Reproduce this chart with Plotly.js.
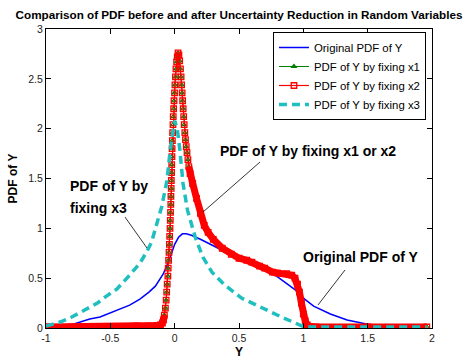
<!DOCTYPE html>
<html><head><meta charset="utf-8">
<script src="https://cdn.plot.ly/plotly-3.0.1.min.js"></script>
<style>html,body{margin:0;padding:0;background:#fff;} #chart{width:464px;height:360px;}</style>
</head><body><div id="chart"></div>
<script>
// Original PDF of Y
const origX = [-0.88, -0.79, -0.66, -0.58, -0.5, -0.425, -0.35, -0.27, -0.2, -0.15, -0.09, -0.04, 0.0, 0.03, 0.06, 0.09, 0.13, 0.2, 0.26, 0.37, 0.5, 0.63, 0.76, 0.86, 0.94, 1.01, 1.08, 1.21, 1.34, 1.49, 1.67];
const origY = [0.0, 0.04, 0.09, 0.11, 0.15, 0.19, 0.23, 0.29, 0.36, 0.42, 0.54, 0.69, 0.84, 0.91, 0.945, 0.945, 0.93, 0.89, 0.85, 0.78, 0.70, 0.63, 0.55, 0.46, 0.38, 0.29, 0.22, 0.14, 0.08, 0.04, 0.01];

// PDF of Y by fixing x1 (visually identical to fixing x2)
const fixX1X = [-1, -0.8, -0.6, -0.4, -0.3, -0.2, -0.14, -0.11, -0.095, -0.087, -0.08, -0.072, -0.066, -0.062, -0.058, -0.053, -0.05, -0.047, -0.044, -0.041, -0.039, -0.036, -0.034, -0.032, -0.03, -0.029, -0.027, -0.026, -0.024, -0.023, -0.021, -0.02, -0.018, -0.016, -0.013, -0.011, -0.008, -0.005, -0.001, 0.002, 0.006, 0.01, 0.015, 0.02, 0.026, 0.033, 0.039, 0.045, 0.05, 0.054, 0.058, 0.062, 0.066, 0.07, 0.074, 0.079, 0.084, 0.09, 0.096, 0.103, 0.11, 0.12, 0.14, 0.17, 0.2, 0.23, 0.26, 0.3, 0.37, 0.44, 0.5, 0.56, 0.6, 0.66, 0.7, 0.76, 0.8, 0.87, 0.91, 0.935, 0.955, 0.97, 0.985, 1.0, 1.015, 1.03, 1.05, 1.1, 1.5, 1.96];
const fixX1Y = [0.01, 0.01, 0.012, 0.015, 0.02, 0.022, 0.025, 0.03, 0.05, 0.08, 0.13, 0.2, 0.28, 0.36, 0.44, 0.52, 0.6, 0.68, 0.76, 0.84, 0.92, 1.0, 1.08, 1.16, 1.24, 1.32, 1.4, 1.48, 1.56, 1.64, 1.72, 1.8, 1.88, 1.96, 2.04, 2.12, 2.2, 2.28, 2.36, 2.44, 2.52, 2.6, 2.67, 2.72, 2.76, 2.74, 2.68, 2.6, 2.52, 2.44, 2.36, 2.28, 2.2, 2.12, 2.04, 1.96, 1.89, 1.82, 1.76, 1.69, 1.62, 1.55, 1.45, 1.3, 1.15, 1.03, 0.96, 0.89, 0.8, 0.74, 0.7, 0.68, 0.66, 0.62, 0.6, 0.56, 0.55, 0.545, 0.53, 0.5, 0.44, 0.36, 0.25, 0.14, 0.07, 0.03, 0.015, 0.01, 0.01, 0.01];

// PDF of Y by fixing x2 (read as the same curve)
const fixX2X = fixX1X.slice();
const fixX2Y = fixX1Y.slice();

// PDF of Y by fixing x3
const fixX3X = [-1.0, -0.89, -0.8, -0.71, -0.6, -0.53, -0.45, -0.35, -0.27, -0.215, -0.18, -0.1, -0.06, -0.035, -0.015, 0.0, 0.02, 0.04, 0.065, 0.1, 0.16, 0.22, 0.29, 0.39, 0.52, 0.68, 0.83, 0.92, 0.99, 1.05, 1.5, 1.96];
const fixX3Y = [0.02, 0.06, 0.11, 0.17, 0.25, 0.32, 0.39, 0.53, 0.65, 0.77, 0.86, 1.22, 1.48, 1.78, 1.98, 2.08, 2.0, 1.79, 1.45, 1.18, 0.91, 0.71, 0.56, 0.43, 0.30, 0.20, 0.11, 0.06, 0.02, 0.01, 0.01, 0.01];

const seriesNames = ['Original PDF of Y', 'PDF of Y by fixing x1', 'PDF of Y by fixing x2', 'PDF of Y by fixing x3'];
const xTicks = [-1, -0.5, 0, 0.5, 1, 1.5, 2];
const xTickLabels = ['-1', '-0.5', '0', '0.5', '1', '1.5', '2'];
const yTicks = [0, 0.5, 1, 1.5, 2, 2.5, 3];
const yTickLabels = ['0', '0.5', '1', '1.5', '2', '2.5', '3'];

// dense (overlapping markers) parts of the fixing-x2 curve, drawn as a thick band
const bandX = [], bandY = [];
let prevIn = false;
for (let i = 0; i < fixX2X.length; i++) {
  const inBand = fixX2X[i] <= -0.08 || fixX2X[i] >= 0.11;
  if (inBand) { bandX.push(fixX2X[i]); bandY.push(fixX2Y[i]); }
  else if (prevIn) { bandX.push(null); bandY.push(null); }
  prevIn = inBand;
}

const FONT = 'Arial, "Liberation Sans", sans-serif';
const GREEN = '#008000', RED = '#ff0000', BLUE = '#0000ff', CYAN = '#1fbfbf';

const traces = [
  {x: origX, y: origY, name: seriesNames[0], mode: 'lines', line: {color: BLUE, width: 1.5}},
  {x: fixX1X, y: fixX1Y, name: seriesNames[1], mode: 'lines+markers', line: {color: GREEN, width: 1},
   marker: {symbol: 'triangle-up-open', size: 4, color: GREEN, line: {color: GREEN, width: 1.2}}},
  {x: bandX, y: bandY, mode: 'lines', showlegend: false, connectgaps: false,
   line: {color: RED, width: 7, shape: 'linear'}},
  {x: fixX2X, y: fixX2Y, name: seriesNames[2], mode: 'lines+markers', line: {color: RED, width: 1.2},
   marker: {symbol: 'square-open', size: 5.5, color: RED, line: {color: RED, width: 1.3}}},
  {x: fixX3X, y: fixX3Y, name: seriesNames[3], mode: 'lines', line: {color: CYAN, width: 3.5, dash: '8px,5px'}}
];

const annFont = {family: FONT, size: 14, color: '#000', weight: 'bold'};
const layout = {
  width: 464, height: 360,
  margin: {l: 46, r: 32, t: 29, b: 32},
  paper_bgcolor: '#fff', plot_bgcolor: '#fff',
  showlegend: true,
  title: {text: '<b>Comparison of PDF before and after Uncertainty Reduction in Random Variables</b>',
          font: {family: FONT, size: 11.7, color: '#000'}, x: 0.5, xref: 'paper', xanchor: 'center',
          y: 1 - 15/360, yref: 'container', yanchor: 'middle'},
  xaxis: {range: [-1, 2], tickvals: xTicks, ticktext: xTickLabels, ticks: 'inside', ticklen: 5,
          tickcolor: '#000', showline: true, linecolor: '#000', linewidth: 1, mirror: 'ticks',
          showgrid: false, zeroline: false, tickfont: {family: FONT, size: 10.5, color: '#222'},
          title: {text: '<b>Y</b>', font: {family: FONT, size: 12, color: '#000'}, standoff: 5}},
  yaxis: {range: [0, 3], tickvals: yTicks, ticktext: yTickLabels, ticks: 'inside', ticklen: 5,
          tickcolor: '#000', showline: true, linecolor: '#000', linewidth: 1, mirror: 'ticks',
          showgrid: false, zeroline: false, tickfont: {family: FONT, size: 10.5, color: '#222'},
          title: {text: '<b>PDF of Y</b>', font: {family: FONT, size: 12, color: '#000'}, standoff: 8}},
  legend: {x: 0.588, y: 0.99, xanchor: 'left', yanchor: 'top', bgcolor: '#fff', bordercolor: '#000',
           borderwidth: 1, font: {family: FONT, size: 11.4, color: '#000'}, tracegroupgap: 0},
  annotations: [
    {x: 1.04, y: 1.775, xref: 'x', yref: 'y', text: '<b>PDF of Y by fixing x1 or x2</b>', showarrow: false, font: annFont},
    {x: 1.448, y: 0.712, xref: 'x', yref: 'y', text: '<b>Original PDF of Y</b>', showarrow: false, font: annFont},
    {x: -0.829, y: 1.42, xref: 'x', yref: 'y', xanchor: 'left', text: '<b>PDF of Y by</b>', showarrow: false, font: annFont},
    {x: -0.829, y: 1.2, xref: 'x', yref: 'y', xanchor: 'left', text: '<b>fixing x3</b>', showarrow: false, font: annFont}
  ],
  shapes: [
    {type: 'line', xref: 'x', yref: 'y', x0: 0.663, y0: 1.665, x1: 0.22, y1: 1.163, line: {color: '#000', width: 0.8}},
    {type: 'line', xref: 'x', yref: 'y', x0: 1.324, y0: 0.582, x1: 1.114, y1: 0.231, line: {color: '#000', width: 0.8}},
    {type: 'line', xref: 'x', yref: 'y', x0: -0.386, y0: 1.113, x1: -0.215, y1: 0.802, line: {color: '#000', width: 0.8}}
  ]
};

Plotly.newPlot('chart', traces, layout, {staticPlot: true, displayModeBar: false});
</script>
</body></html>
